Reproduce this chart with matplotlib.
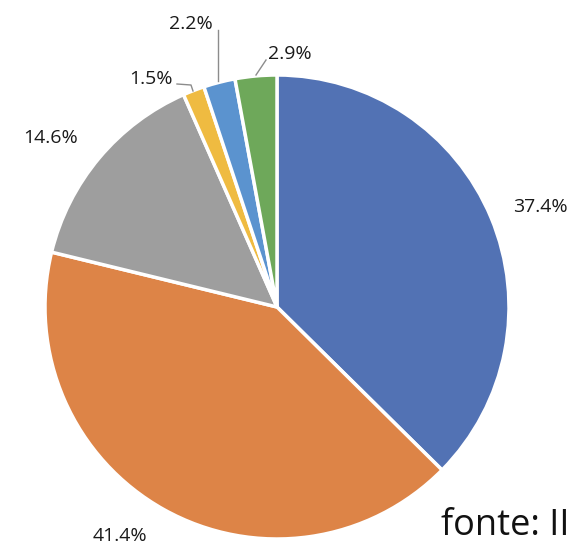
import matplotlib
matplotlib.use("Agg")
import matplotlib.pyplot as plt

# slice shares, clockwise from 12 o'clock
values = [37.4, 41.4, 14.6, 1.5, 2.2, 2.9]
labels = ["37.4%", "41.4%", "14.6%", "1.5%", "2.2%", "2.9%"]
colors = ["#5272b4", "#dd8447", "#9e9e9e", "#efbb41", "#5b93cf", "#6ea85a"]

W, H = 571, 546
CX, CY, R = 277, 307, 232   # pie centre / radius in pixels


def px(x, y):
    """pixel (from top-left) -> data coords with radius 1 pie"""
    return (x - CX) / R, (CY - y) / R


fig = plt.figure(figsize=(W / 100, H / 100), dpi=100)
ax = fig.add_axes([0, 0, 1, 1])
ax.pie(values, colors=colors, startangle=90, counterclock=False, radius=1,
       wedgeprops=dict(edgecolor="white", linewidth=2.5))
ax.set_xlim(-CX / R, (W - CX) / R)
ax.set_ylim(-(H - CY) / R, CY / R)
ax.set_aspect("equal")
ax.axis("off")

font = dict(family=["Open Sans", "DejaVu Sans"], fontsize=14, color="#1a1a1a",
            ha="center", va="center")
label_pos = [(540, 207), (120, 536), (51, 138), (151, 79), (191, 24), (290, 54)]
for lab, (x, y) in zip(labels, label_pos):
    ax.text(*px(x, y), lab, **font)

# leader lines for the small slices
leaders = [
    [(177, 84), (191, 85), (193, 91)],
    [(218, 30), (218, 81)],
    [(266, 60), (256, 75)],
]
for pts in leaders:
    xs, ys = zip(*[px(x, y) for x, y in pts])
    ax.plot(xs, ys, color="#8c8c8c", lw=1)

ax.text(*px(441, 526), "fonte: II", family=["Open Sans", "DejaVu Sans"],
        fontsize=26, color="#111111", ha="left", va="center")

fig.savefig("out.png", dpi=100)
